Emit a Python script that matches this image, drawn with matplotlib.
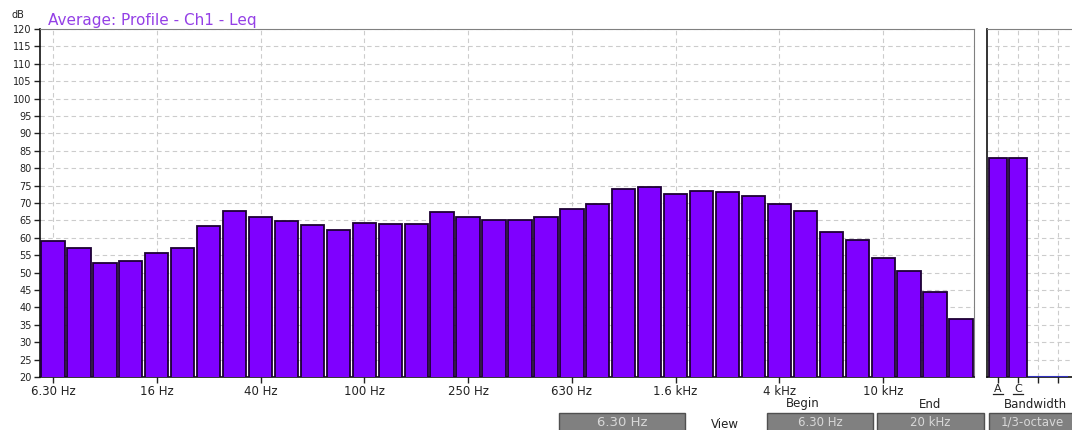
import numpy as np
import matplotlib
matplotlib.use('Agg')
import matplotlib.pyplot as plt
from matplotlib.patches import Rectangle

plt.rcParams['font.family'] = ['DejaVu Sans']

# 1/3-octave bands, 6.3 Hz .. 20 kHz
bands = ['6.30 Hz', '8 Hz', '10 Hz', '12.5 Hz', '16 Hz', '20 Hz', '25 Hz', '31.5 Hz',
         '40 Hz', '50 Hz', '63 Hz', '80 Hz', '100 Hz', '125 Hz', '160 Hz', '200 Hz',
         '250 Hz', '315 Hz', '400 Hz', '500 Hz', '630 Hz', '800 Hz', '1 kHz', '1.25 kHz',
         '1.6 kHz', '2 kHz', '2.5 kHz', '3.15 kHz', '4 kHz', '5 kHz', '6.3 kHz', '8 kHz',
         '10 kHz', '12.5 kHz', '16 kHz', '20 kHz']
leq = [59.0, 57.2, 52.7, 53.2, 55.5, 57.2, 63.4, 67.7,
       66.1, 64.7, 63.7, 62.3, 64.2, 64.0, 64.0, 67.3,
       65.9, 65.0, 65.0, 65.9, 68.4, 69.8, 74.0, 74.7,
       72.7, 73.5, 73.3, 71.9, 69.8, 67.8, 61.6, 59.4,
       54.2, 50.4, 44.3, 36.8]

# overall weighted levels (right panel)
weight_labels = ['A', 'C', '', '']
weight_values = [83.0, 83.0, 20.0, 20.0]

# footer fields
footer_cursor = '6.30 Hz'
footer_heads = ['Begin', 'End', 'Bandwidth']
footer_vals = ['6.30 Hz', '20 kHz', '1/3-octave']

bar_color = '#7f00ff'
edge_color = '#1c0033'
grid_kw = dict(color='#cccccc', linestyle=(0, (4, 3)), linewidth=0.8)

W, H = 1072, 430
fig = plt.figure(figsize=(W / 100, H / 100), dpi=100)

def px_axes(x0, y0, x1, y1):
    return fig.add_axes([x0 / W, 1 - y1 / H, (x1 - x0) / W, (y1 - y0) / H])

# main spectrum
ax = px_axes(40, 29, 974, 377)
x = np.arange(len(bands))
ax.bar(x, leq, width=0.9, color=bar_color, edgecolor=edge_color, linewidth=1.3, zorder=3)
ax.set_xlim(-0.5, len(bands) - 0.5)
ax.set_ylim(20, 120)
ax.set_yticks(np.arange(20, 121, 5))
ax.set_xticks(x[::4])
ax.set_xticklabels(bands[::4])
ax.grid(True, **grid_kw)
ax.set_axisbelow(True)
ax.tick_params(direction='out', length=4, width=1, colors='#222222')
ax.tick_params(axis='x', labelsize=8.5, pad=2)
ax.tick_params(axis='y', labelsize=7, pad=2)
for s in ['top', 'right']:
    ax.spines[s].set_color('#808080')
for s in ['left', 'bottom']:
    ax.spines[s].set_color('#111111')
    ax.spines[s].set_linewidth(1.2)
ax.text(0.009, 1.004, 'Average: Profile - Ch1 - Leq', transform=ax.transAxes,
        color='#9440e6', fontsize=11, ha='left', va='bottom')
fig.text(18 / W, 1 - 15 / H, 'dB', fontsize=7, ha='center', va='center', color='#222222')

# weighted overall panel
ax2 = px_axes(987, 29, 1080, 377)
xw = np.arange(len(weight_values))
ax2.bar(xw, weight_values, width=0.9, color=bar_color, edgecolor=edge_color, linewidth=1.3, zorder=3)
ax2.bar(xw[2:], [v - 20 for v in weight_values[2:]], bottom=20, width=1.0,
        color=bar_color, edgecolor='#3030c0', linewidth=1.5, zorder=3)
ax2.set_xlim(-0.55, 4.1)
ax2.set_ylim(20, 120)
ax2.set_yticks(np.arange(20, 121, 5))
ax2.set_yticklabels([])
ax2.tick_params(axis='y', length=0)
ax2.set_xticks(xw)
ax2.set_xticklabels(weight_labels)
ax2.tick_params(axis='x', direction='out', length=4, width=1, labelsize=8, pad=1, colors='#222222')
ax2.grid(True, **grid_kw)
ax2.set_axisbelow(True)
ax2.spines['top'].set_color('#808080')
ax2.spines['right'].set_visible(False)
for s in ['left', 'bottom']:
    ax2.spines[s].set_color('#111111')
    ax2.spines[s].set_linewidth(1.2)
# underline the weighting letters (hotkey style)
for i, lab in zip(xw, weight_labels):
    if lab:
        ax2.plot([i - 0.25, i + 0.25], [-0.05, -0.05], color='#222222', lw=0.9,
                 transform=ax2.get_xaxis_transform(), clip_on=False)

# footer
box_kw = dict(facecolor='#808080', edgecolor='#505050', linewidth=1.0)
txt_kw = dict(color='#d8d8d8', ha='center', va='center')
def box(x0, x1, label, size):
    r = Rectangle((x0 / W, 1 - 431 / H), (x1 - x0) / W, 18 / H, transform=fig.transFigure, **box_kw)
    fig.patches.append(r)
    fig.text((x0 + x1) / 2 / W, 1 - 422 / H, label, fontsize=size, **txt_kw)

box(559, 685, footer_cursor, 9.5)
fig.text(725 / W, 1 - 424 / H, 'View', fontsize=8.5, ha='center', va='center', color='#222222')
for (x0, x1), val in zip([(767, 873), (877, 984), (989, 1075)], footer_vals):
    box(x0, x1, val, 8.5)
for cx, head in zip([803, 930, 1035], footer_heads):
    fig.text(cx / W, 1 - 404 / H, head, fontsize=8.5, ha='center', va='center', color='#222222')

fig.savefig('out.png', dpi=100)
